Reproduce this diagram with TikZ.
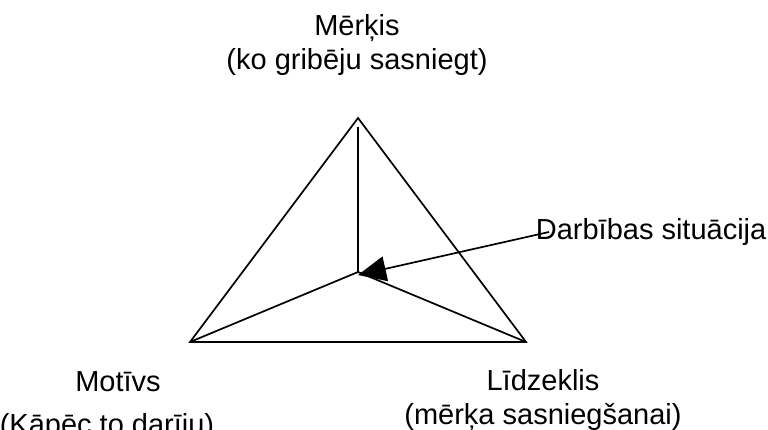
\documentclass[tikz,border=0pt]{standalone}
\usepackage{fontspec}
\setmainfont{Liberation Sans}
\usepackage{tikz}
\usetikzlibrary{arrows.meta}

\begin{document}
\begin{tikzpicture}[
    x = 1pt, y = -1pt, % pixel grid
    >= {Triangle[length=28pt,width=25pt]}, % arrow head style
    line width = 1.7pt, % line style
    font = \fontsize{29}{34}\selectfont
]
\tikzstyle{every node}=[
    inner sep = 0pt,
    align = center
]
\useasboundingbox (0,0) rectangle (768,430);

% triangle corners
\coordinate (t) at (358,118);
\coordinate (tv) at (358,127);
\coordinate (l) at (190,342);
\coordinate (r) at (526,342);
\coordinate (m) at (358,272);

\draw (t) -- (l) -- (r) -- cycle;
\draw (tv) -- (m);
\draw (l) -- (m) -- (r);

% labels
\node (goal) at (357,45) {Mērķis\\(ko gribēju sasniegt)};
\node (sit) [anchor=west] at (535,232) {Darbības situācija};
\node (mot) at (118,382) {Motīvs};
\node (why) at (107,427) {(Kāpēc to darīju)};
\node (mean) at (543,400) {Līdzeklis\\(mērķa sasniegšanai)};

\draw[->] ([xshift=14pt]sit.west) -- ([yshift=-3pt]m);

\end{tikzpicture}
\end{document}
